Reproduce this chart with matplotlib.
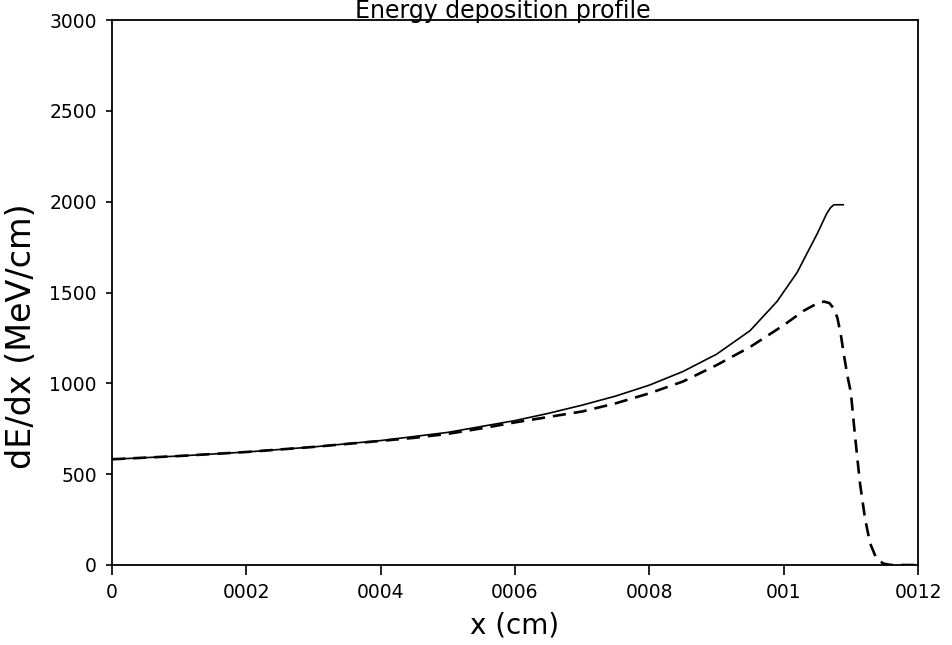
import matplotlib
matplotlib.use("Agg")
import matplotlib.pyplot as plt
from matplotlib.ticker import FixedLocator, FixedFormatter

# Solid curve
x_solid = [0, 0.0001, 0.0002, 0.0003, 0.0004, 0.0005, 0.0006, 0.00065, 0.0007,
           0.00075, 0.0008, 0.00085, 0.0009, 0.00095, 0.00099, 0.00102,
           0.00105, 0.001064, 0.00107, 0.001075, 0.00109]
y_solid = [582, 600, 622, 650, 685, 730, 795, 835, 880,
           930, 990, 1065, 1160, 1290, 1450, 1610,
           1824, 1934, 1968, 1983, 1983]

# Dashed curve
x_dashed = [0, 0.0001, 0.0002, 0.0003, 0.0004, 0.00045, 0.0005, 0.00055, 0.0006,
            0.00065, 0.0007, 0.00075, 0.0008, 0.00085, 0.0009, 0.00095, 0.001,
            0.00103, 0.00105, 0.00106, 0.001068, 0.001075, 0.00108, 0.001085,
            0.00109, 0.001095, 0.0011, 0.001106, 0.0011136, 0.001121,
            0.0011285, 0.001137, 0.001148, 0.00116, 0.0012]
y_dashed = [582, 600, 622, 650, 683, 700, 722, 752, 785,
            815, 845, 890, 945, 1010, 1100, 1200, 1320,
            1400, 1440, 1450, 1442, 1410, 1360, 1270,
            1150, 1040, 950, 720, 450, 260,
            121, 45, 8, 0, 0]

xticks = [0, 0.0002, 0.0004, 0.0006, 0.0008, 0.001, 0.0012]
xtick_labels = ["0", "0002", "0004", "0006", "0008", "001", "0012"]
yticks = [0, 500, 1000, 1500, 2000, 2500, 3000]
ytick_labels = ["0", "500", "1000", "1500", "2000", "2500", "3000"]

plt.rcParams['font.family'] = ['DejaVu Sans']

fig = plt.figure(figsize=(9.52, 6.45), dpi=100)
ax = fig.add_axes([112/952, 1 - 565/645, (918-112)/952, (565-20)/645])

ax.plot(x_solid, y_solid, color='black', lw=1.2, solid_capstyle='butt',
        solid_joinstyle='round')
ax.plot(x_dashed, y_dashed, color='black', lw=1.9, dashes=(5, 3))

ax.set_xlim(0, 0.0012)
ax.set_ylim(0, 3000)
ax.xaxis.set_major_locator(FixedLocator(xticks))
ax.xaxis.set_major_formatter(FixedFormatter(xtick_labels))
ax.yaxis.set_major_locator(FixedLocator(yticks))
ax.yaxis.set_major_formatter(FixedFormatter(ytick_labels))

ax.tick_params(axis='x', direction='out', length=7, width=1.2, pad=6,
               labelsize=13.5, top=False)
ax.tick_params(axis='y', direction='out', length=4, width=1.2, pad=7,
               labelsize=13.5, right=False)
for s in ax.spines.values():
    s.set_linewidth(1.3)

ax.set_xlabel("x (cm)", fontsize=20, labelpad=7)
ax.set_ylabel("dE/dx (MeV/cm)", fontsize=24)
ax.yaxis.set_label_coords(-0.092, 0.42)

fig.text(503/952, 1 - 18/645, "Energy deposition profile", fontsize=17,
         ha='center', va='baseline')

fig.savefig("out.png", dpi=100)
